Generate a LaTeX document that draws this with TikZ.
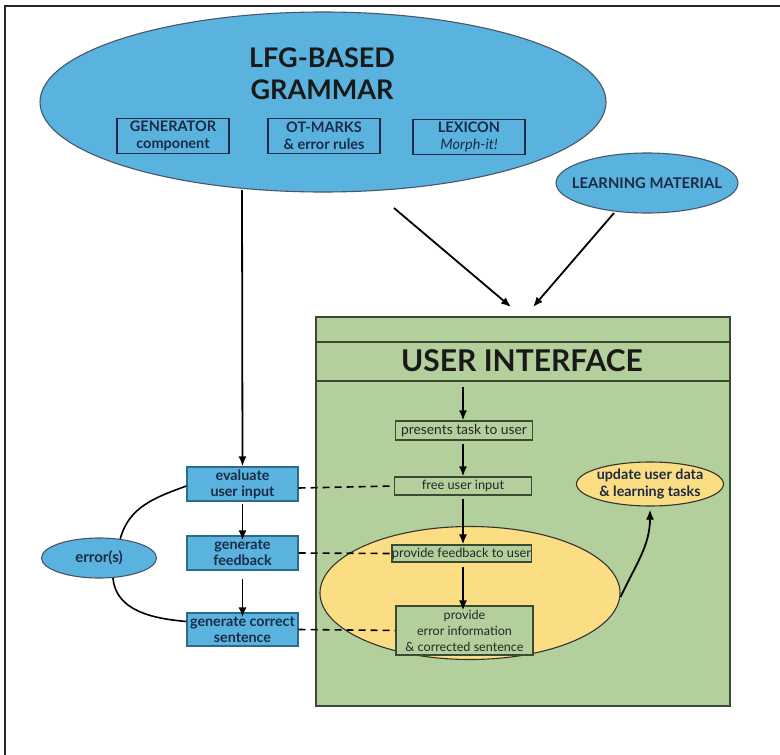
\documentclass[tikz,border=0pt]{standalone}
\usepackage{fontspec}
\setmainfont{Lato}
\usetikzlibrary{shapes.geometric,arrows.meta}
\definecolor{skyb}{HTML}{5AB3DE}
\definecolor{skyline}{HTML}{2A6C8C}
\definecolor{navy}{HTML}{1B2A45}
\definecolor{uigreen}{HTML}{B3CF9C}
\definecolor{uiline}{HTML}{3A4A33}
\definecolor{yel}{HTML}{FBDD84}
\tikzset{
  arr/.style={line width=1.8pt,-{Latex[length=10pt,width=8pt]}},
  link/.style={line width=1.6pt},
  dlink/.style={line width=1.6pt,dash pattern=on 7pt off 5pt},
  bluebox/.style={draw=skyline,line width=1.2pt,fill=skyb,text=navy,font=\bfseries\fontsize{14.3}{16}\selectfont,align=center,inner sep=0pt,minimum width=111pt},
  innerbox/.style={draw=navy,line width=1.2pt,text=navy,font=\bfseries\fontsize{14.5}{17}\selectfont,align=center,inner sep=0pt,minimum width=112pt,minimum height=35pt},
  greenbox/.style={draw=uiline,line width=1.1pt,fill=uigreen,text=black!85,font=\fontsize{12.8}{16}\selectfont,align=center,inner sep=0pt,minimum width=137pt},
  blueell/.style={ellipse,draw=navy!80,line width=1.1pt,fill=skyb,inner sep=0pt},
  yelell/.style={ellipse,draw=black!80,line width=1.1pt,fill=yel,inner sep=0pt},
  elltext/.style={label distance=0pt,text=navy,align=center,inner sep=0pt}
}
\begin{document}
\begin{tikzpicture}[x=1pt,y=-1pt]
\useasboundingbox (0,0) rectangle (780,755);
\fill[white] (0,0) rectangle (780,755);
% frame
\draw[line width=1.6pt,black!85] (5,755) -- (5,6) -- (780,6);

% big grammar ellipse
\node[blueell,minimum width=566pt,minimum height=180pt] (lfg) at (323,102) {};
\node[text=black!90,font=\bfseries\fontsize{27}{32}\selectfont,align=center] (lfgt) at (322,74) {LFG-BASED\\GRAMMAR};
\node[innerbox] (gen) at (173,136) {GENERATOR\\component};
\node[innerbox] (ot) at (324,136) {OT-MARKS\\\& error rules};
\node[innerbox] (lex) at (469,137) {LEXICON\\{\normalfont\itshape Morph-it!}};

% learning material
\node[blueell,minimum width=182pt,minimum height=60pt,
  label={[elltext,font=\bfseries\fontsize{14.8}{17}\selectfont]center:LEARNING MATERIAL}] (lm) at (647,183) {};

% user interface box
\node[draw=uiline,line width=1.2pt,fill=uigreen,minimum width=414pt,minimum height=389pt,inner sep=0pt] (ui) at (523,511.5) {};
\draw[uiline,line width=1.2pt] (316,342) -- (730,342);
\draw[uiline,line width=1.2pt] (316,381) -- (730,381);
\node[text=black!90,font=\bfseries\fontsize{30}{34}\selectfont] (uit) at (522,361) {USER INTERFACE};

% yellow ellipse
\node[yelell,minimum width=300pt,minimum height=133pt] (yl) at (470,593) {};
\node[yelell,minimum width=147pt,minimum height=44pt,
  label={[elltext,font=\bfseries\fontsize{14.3}{17}\selectfont]center:{update user data\\\& learning tasks}}] (upd) at (650,484) {};

% inner green boxes
\coordinate (uitop) at (463,387);
\node[greenbox,minimum height=19pt,font=\fontsize{13.8}{16}\selectfont] (task) at (464,430.5) {presents task to user};
\node[greenbox,minimum height=18pt] (free) at (463,486) {free user input};
\node[greenbox,minimum height=17pt] (fb) at (461.5,553.5) {provide feedback to user};
\node[greenbox,minimum height=49pt,font=\fontsize{12.6}{16}\selectfont] (einfo) at (464.5,630.5) {provide\\error information\\\& corrected sentence};

\draw[arr] (uitop) -- (task.north -| uitop);
\draw[arr] (task.south -| uitop) ++(0,3) -- (free.north -| uitop);
\draw[arr] (free.south -| uitop) ++(0,3) -- (fb.north -| uitop);
\draw[arr] (fb.south -| uitop) ++(0,4) -- ([yshift=-5pt]einfo.north -| uitop);
\draw[arr] (yl.east) ++(0,4) to[out=65,in=-90] ([yshift=-3pt]upd.south);

% left blue boxes
\node[bluebox,minimum height=34pt] (ev) at (242.5,484) {evaluate\\user input};
\node[bluebox,minimum height=34pt] (gf) at (242.5,553) {generate\\feedback};
\node[bluebox,minimum height=33pt] (gc) at (242.5,629.5) {generate correct\\sentence};
\node[blueell,minimum width=115pt,minimum height=40pt,
  label={[elltext,font=\bfseries\fontsize{15}{17}\selectfont]center:error(s)}] (err) at (99,558) {};

\draw[arr] (242,190) -- (ev.north);
\draw[arr] (ev.south) ++(0,2) -- ([yshift=-5pt]gf.north);
\draw[arr] (gf.south) ++(0,8) -- ([yshift=-5pt]gc.north);

\draw[link] ([yshift=-2pt]ev.west) to[out=200,in=75] (err.42);
\draw[link] (err.-55) to[out=-85,in=175] ([yshift=8pt]gc.west);

\draw[dlink] ([yshift=-4pt]ev.east) -- (free.west);
\draw[dlink] (gf.east) -- (fb.west);
\draw[dlink] ([yshift=0pt]gc.east) -- (einfo.west);

% arrows into UI
\coordinate (in1) at (511,307);
\coordinate (in2) at (533,307);
\coordinate (lfgout) at (394,208);
\coordinate (lmout) at (614,213);
\draw[arr] (lfgout) -- (in1);
\draw[arr] (lmout) -- (in2);
\end{tikzpicture}
\end{document}
